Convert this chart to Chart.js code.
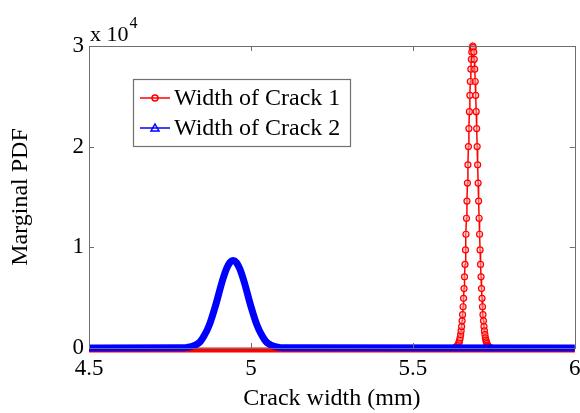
<!DOCTYPE html>
<html><head><meta charset="utf-8">
<script src="https://cdn.jsdelivr.net/npm/chart.js@4"></script>
<style>html,body{margin:0;padding:0;background:#fff}#wrap{width:580px;height:413px;position:relative}</style>
</head><body><div id="wrap"><canvas id="c" width="580" height="413" style="width:580px;height:413px"></canvas></div>
<script>
const seriesNames = ['Width of Crack 1', 'Width of Crack 2'];
const crack1X = [5.6310,5.6325,5.6340,5.6355,5.6370,5.6385,5.6400,5.6415,5.6430,5.6445,5.6460,5.6475,5.6490,5.6505,5.6520,5.6535,5.6550,5.6565,5.6580,5.6595,5.6610,5.6625,5.6640,5.6655,5.6670,5.6685,5.6700,5.6715,5.6730,5.6745,5.6760,5.6775,5.6790,5.6805,5.6820,5.6835,5.6850,
  5.6865,5.6880,5.6895,5.6910,5.6925,5.6940,5.6955,5.6970,5.6985,5.7000,5.7015,5.7030,5.7045,5.7060,5.7075,5.7090,5.7105,5.7120,5.7135,5.7150,5.7165,5.7180,5.7195,5.7210,5.7225,5.7240,5.7255,5.7270,5.7285,5.7300,5.7315,5.7330,5.7345,5.7360,5.7375,5.7390];
const crack1Y = [50,65,100,130,200,250,300,450,600,780,1000,1320,1700,2130,2700,3310,4100,4930,5900,7070,8300,9740,11300,12890,14600,16380,18200,20010,21800,23480,25100,26475,27700,28680,29400,29850,30000,
  29850,29400,28680,27700,26475,25100,23480,21800,20010,18200,16380,14600,12890,11300,9740,8300,7070,5900,4930,4100,3310,2700,2130,1700,1320,1000,780,600,450,300,250,200,130,100,65,50];
const crack1BaseX = [4.5, 6];
const crack1BaseY = [-200, -200];
const crack2X = [4.5,4.795,4.805,4.815,4.825,4.835,4.845,4.855,4.865,4.875,4.885,4.895,4.905,4.915,4.925,4.935,4.945,4.955,4.965,4.975,4.985,4.995,5.005,5.015,5.025,5.035,5.045,5.055,5.065,5.075,5.085,5.095,6];
const crack2Y = [0,30,70,130,250,400,700,1200,1800,2600,3600,4700,5900,7000,7900,8500,8700,8500,7900,7000,5900,4700,3600,2600,1800,1200,700,400,250,130,70,30,0];
const xTickValues = [4.5, 5, 5.5, 6];
const xTickLabels = ['4.5', '5', '5.5', '6'];
const yTickValues = [0, 10000, 20000, 30000];
const yTickLabels = ['0', '1', '2', '3'];
const yExponent = '4';
const xTitle = 'Crack width (mm)';
const yTitle = 'Marginal PDF';

const SERIF = '"Liberation Serif", "Times New Roman", serif';
const RED = '#ff0000', BLUE = '#0000ff';
const zip = (xs, ys) => xs.map((x, i) => ({x, y: ys[i]}));

const boxPlugin = {
  id: 'boxPlugin',
  afterDraw(chart) {
    const ctx = chart.ctx, a = chart.chartArea;
    const xs = chart.scales.x, ys = chart.scales.y;
    ctx.save();
    ctx.strokeStyle = '#6e6e6e';
    ctx.lineWidth = 1;
    ctx.strokeRect(Math.round(a.left) + 0.5, Math.round(a.top) + 0.5, Math.round(a.right - a.left), Math.round(a.bottom - a.top));
    ctx.beginPath();
    xTickValues.forEach(v => {
      const px = Math.round(xs.getPixelForValue(v)) + 0.5;
      ctx.moveTo(px, a.bottom); ctx.lineTo(px, a.bottom - 5);
      ctx.moveTo(px, a.top); ctx.lineTo(px, a.top + 5);
    });
    yTickValues.forEach(v => {
      const py = Math.round(ys.getPixelForValue(v)) + 0.5;
      ctx.moveTo(a.left, py); ctx.lineTo(a.left + 5, py);
      ctx.moveTo(a.right, py); ctx.lineTo(a.right - 5, py);
    });
    ctx.stroke();

    // exponent label
    ctx.fillStyle = '#000';
    ctx.textBaseline = 'alphabetic';
    ctx.textAlign = 'left';
    ctx.font = '22px ' + SERIF;
    ctx.fillText('x 10', a.left + 1, a.top - 5);
    const w = ctx.measureText('x 10').width;
    ctx.font = '16px ' + SERIF;
    ctx.fillText(yExponent, a.left + 2 + w, a.top - 18);

    // legend
    const bx = 133, by = 79, bw = 217, bh = 67;
    ctx.fillStyle = '#fff';
    ctx.fillRect(bx, by, bw, bh);
    ctx.strokeStyle = '#707070';
    ctx.lineWidth = 1.2;
    ctx.strokeRect(bx + 0.5, by + 0.5, bw, bh);
    const rows = [{c: RED, m: 'circle', y: 98}, {c: BLUE, m: 'triangle', y: 128}];
    rows.forEach((r, i) => {
      ctx.strokeStyle = r.c;
      ctx.lineWidth = 1.5;
      ctx.beginPath(); ctx.moveTo(140, r.y); ctx.lineTo(170, r.y); ctx.stroke();
      ctx.beginPath();
      if (r.m === 'circle') { ctx.arc(155, r.y, 3, 0, Math.PI * 2); }
      else { ctx.moveTo(155, r.y - 4); ctx.lineTo(159, r.y + 3); ctx.lineTo(151, r.y + 3); ctx.closePath(); }
      ctx.stroke();
      ctx.fillStyle = '#000';
      ctx.font = '24px ' + SERIF;
      ctx.textBaseline = 'middle';
      ctx.fillText(seriesNames[i], 174, r.y + 1);
    });
    ctx.restore();
  }
};

new Chart(document.getElementById('c'), {
  type: 'line',
  data: {
    datasets: [
      {label: seriesNames[1], data: zip(crack2X, crack2Y), borderColor: BLUE, backgroundColor: BLUE,
       borderWidth: 7, pointRadius: 0, cubicInterpolationMode: 'monotone', order: 0, clip: false},
      {label: seriesNames[0], data: zip(crack1X, crack1Y), borderColor: RED, backgroundColor: 'rgba(255,255,255,0.3)',
       borderWidth: 1.5, pointRadius: 3, pointBorderWidth: 1.2, pointStyle: 'circle', pointBorderColor: RED,
       pointBackgroundColor: 'rgba(255,180,180,0.5)', order: 1, clip: false},
      {label: '_base', data: zip(crack1BaseX, crack1BaseY), borderColor: RED, borderWidth: 5, pointRadius: 0, order: 2, clip: false}
    ]
  },
  options: {
    responsive: false,
    animation: false,
    devicePixelRatio: 1,
    layout: {padding: {left: 0, right: 3, top: 46, bottom: 0}},
    plugins: {legend: {display: false}, tooltip: {enabled: false}},
    scales: {
      x: {
        type: 'linear', min: 4.5, max: 6,
        afterBuildTicks: s => { s.ticks = xTickValues.map(v => ({value: v})); },
        afterFit: s => { s.height = 65; s.paddingLeft = 0; s.paddingRight = 0; },
        grid: {display: false, drawTicks: false},
        border: {display: false},
        ticks: {padding: 7, color: '#000', font: {family: SERIF, size: 23}, maxRotation: 0,
                callback: (v) => xTickLabels[xTickValues.indexOf(v)]},
        title: {display: true, text: xTitle, color: '#000', font: {family: SERIF, size: 24}, padding: {top: 0, bottom: 0}}
      },
      y: {
        type: 'linear', min: 0, max: 30000,
        afterBuildTicks: s => { s.ticks = yTickValues.map(v => ({value: v})); },
        afterFit: s => { s.width = 89; s.paddingTop = 0; s.paddingBottom = 0; },
        grid: {display: false, drawTicks: false},
        border: {display: false},
        ticks: {padding: 5, color: '#000', font: {family: SERIF, size: 23},
                callback: (v) => yTickLabels[yTickValues.indexOf(v)]},
        title: {display: true, text: yTitle, color: '#000', font: {family: SERIF, size: 24}, padding: {top: 6, bottom: 0}}
      }
    }
  },
  plugins: [boxPlugin]
});
</script></body></html>
